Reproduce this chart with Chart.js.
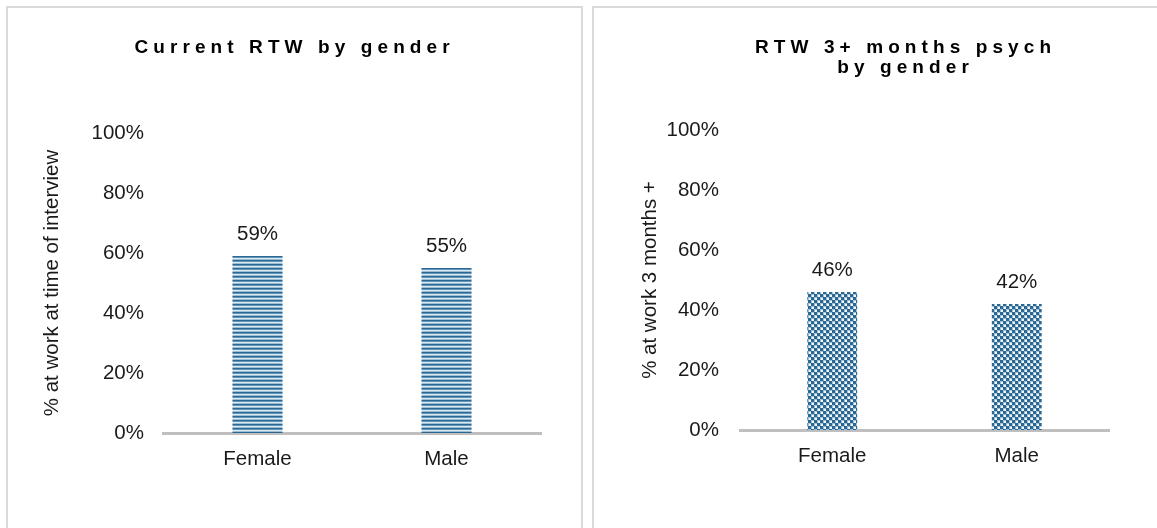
<!DOCTYPE html>
<html>
<head>
<meta charset="utf-8">
<script src="https://cdn.jsdelivr.net/npm/chart.js@4"></script>
<style>
    body { margin: 0; background: #fff; width: 1157px; height: 528px; overflow: hidden; position: relative; }
    .panel { position: absolute; border: 2px solid #d9d9d9; box-sizing: border-box; }
    canvas { position: absolute; top: 0; }
</style>
</head>
<body>
<div class="panel" style="left:6px; top:6px; width:577px; height:560px"></div>
<div class="panel" style="left:592px; top:6px; width:600px; height:560px"></div>
<canvas id="chart_1" width="582" height="528" style="left:0"></canvas>
<canvas id="chart_2" width="565" height="528" style="left:592px"></canvas>
<script>
// data
const categories = ['Female', 'Male'];
const current_rtw = [59, 55];
const rtw_3_months = [46, 42];
const y_ticks = [0, 20, 40, 60, 80, 100];
const title_1 = ['Current RTW by gender'];
const title_2 = ['RTW 3+ months psych', 'by gender'];
const y_title_1 = '% at work at time of interview';
const y_title_2 = '% at work 3 months +';

const FONT = '"Liberation Sans", Arial, sans-serif';

// fill patterns
const stripes = () => {
    const c = document.createElement('canvas');
    c.width = 4; c.height = 4;
    const g = c.getContext('2d');
    ['#2a6792', '#6396ba', '#dbe8f1', '#9dbfd5'].forEach((col, i) => {
        g.fillStyle = col;
        g.fillRect(0, i, 4, 1);
    });
    return g.createPattern(c, 'repeat');
}
const checks = () => {
    const c = document.createElement('canvas');
    c.width = 6; c.height = 6;
    const g = c.getContext('2d');
    g.fillStyle = '#a3c1d6';
    g.fillRect(0, 0, 6, 6);
    g.fillStyle = '#2a6792';
    g.fillRect(0, 0, 3, 3);
    g.fillRect(3, 3, 3, 3);
    g.fillStyle = '#f6f9fb';
    g.fillRect(4, 1, 2, 2);
    g.fillRect(1, 4, 2, 2);
    return g.createPattern(c, 'repeat');
}

// value labels above bars
const valueLabels = {
    id: 'valueLabels',
    afterDatasetsDraw(chart) {
        const ctx = chart.ctx;
        ctx.save();
        ctx.font = `20.5px ${FONT}`;
        ctx.fillStyle = '#1a1a1a';
        ctx.textAlign = 'center';
        ctx.textBaseline = 'alphabetic';
        chart.getDatasetMeta(0).data.forEach((bar, i) => {
            ctx.fillText(chart.data.datasets[0].data[i] + '%', bar.x, bar.y - 16);
        });
        ctx.restore();
    }
}

// letter spaced title
const spacedTitle = {
    id: 'spacedTitle',
    afterDraw(chart, args, opts) {
        const ctx = chart.ctx;
        ctx.save();
        ctx.font = `bold ${opts.size}px ${FONT}`;
        ctx.letterSpacing = opts.spacing + 'px';
        ctx.fillStyle = '#000';
        ctx.textAlign = 'left';
        ctx.textBaseline = 'alphabetic';
        opts.lines.forEach((line, i) => {
            const w = ctx.measureText(line).width - opts.spacing;
            ctx.fillText(line, opts.x - w / 2, opts.y + i * opts.lineHeight);
        });
        ctx.restore();
    }
}

const create_chart = (elem_id, values, fill, cfg) => {
    const ctx = document.getElementById(elem_id).getContext('2d');
    return new Chart(ctx, {
        type: 'bar',
        data: {
            labels: categories,
            datasets: [{
                data: values,
                backgroundColor: fill,
                borderWidth: 0,
                categoryPercentage: 1,
                barPercentage: cfg.barPct
            }]
        },
        options: {
            responsive: false,
            animation: false,
            layout: { padding: { top: cfg.top, right: cfg.right, left: 0, bottom: 0 } },
            plugins: {
                legend: { display: false },
                tooltip: { enabled: false },
                spacedTitle: { lines: cfg.title, x: cfg.titleX, y: 53, size: 19, spacing: 5.1, lineHeight: 20 }
            },
            scales: {
                x: {
                    grid: { display: false, drawTicks: false },
                    border: { display: true, color: '#bfbfbf', width: 3 },
                    ticks: { padding: 14, color: '#1a1a1a', font: { family: FONT, size: 20.5 } },
                    afterFit: s => { s.height = cfg.xHeight; }
                },
                y: {
                    min: 0,
                    max: 100,
                    afterBuildTicks: s => { s.ticks = y_ticks.map(v => ({ value: v })); },
                    grid: { display: false, drawTicks: false },
                    border: { display: false },
                    ticks: { padding: cfg.tickPad, color: '#1a1a1a', font: { family: FONT, size: 20.5 }, callback: v => v + '%' },
                    title: { display: true, text: cfg.yTitle, color: '#1a1a1a', font: { family: FONT, size: 20.5 }, padding: { top: cfg.yTitlePad, bottom: 0 } },
                    afterFit: s => { s.width = cfg.yWidth; }
                }
            }
        },
        plugins: [valueLabels, spacedTitle]
    });
}

create_chart('chart_1', current_rtw, stripes(), {
    barPct: 0.265, top: 133, right: 41, xHeight: 95, yWidth: 163, tickPad: 19, yTitlePad: 40,
    yTitle: y_title_1, title: title_1, titleX: 292
});
create_chart('chart_2', rtw_3_months, checks(), {
    barPct: 0.27, top: 130, right: 48, xHeight: 98, yWidth: 148, tickPad: 21, yTitlePad: 46,
    yTitle: y_title_2, title: title_2, titleX: 311
});
</script>
</body>
</html>
